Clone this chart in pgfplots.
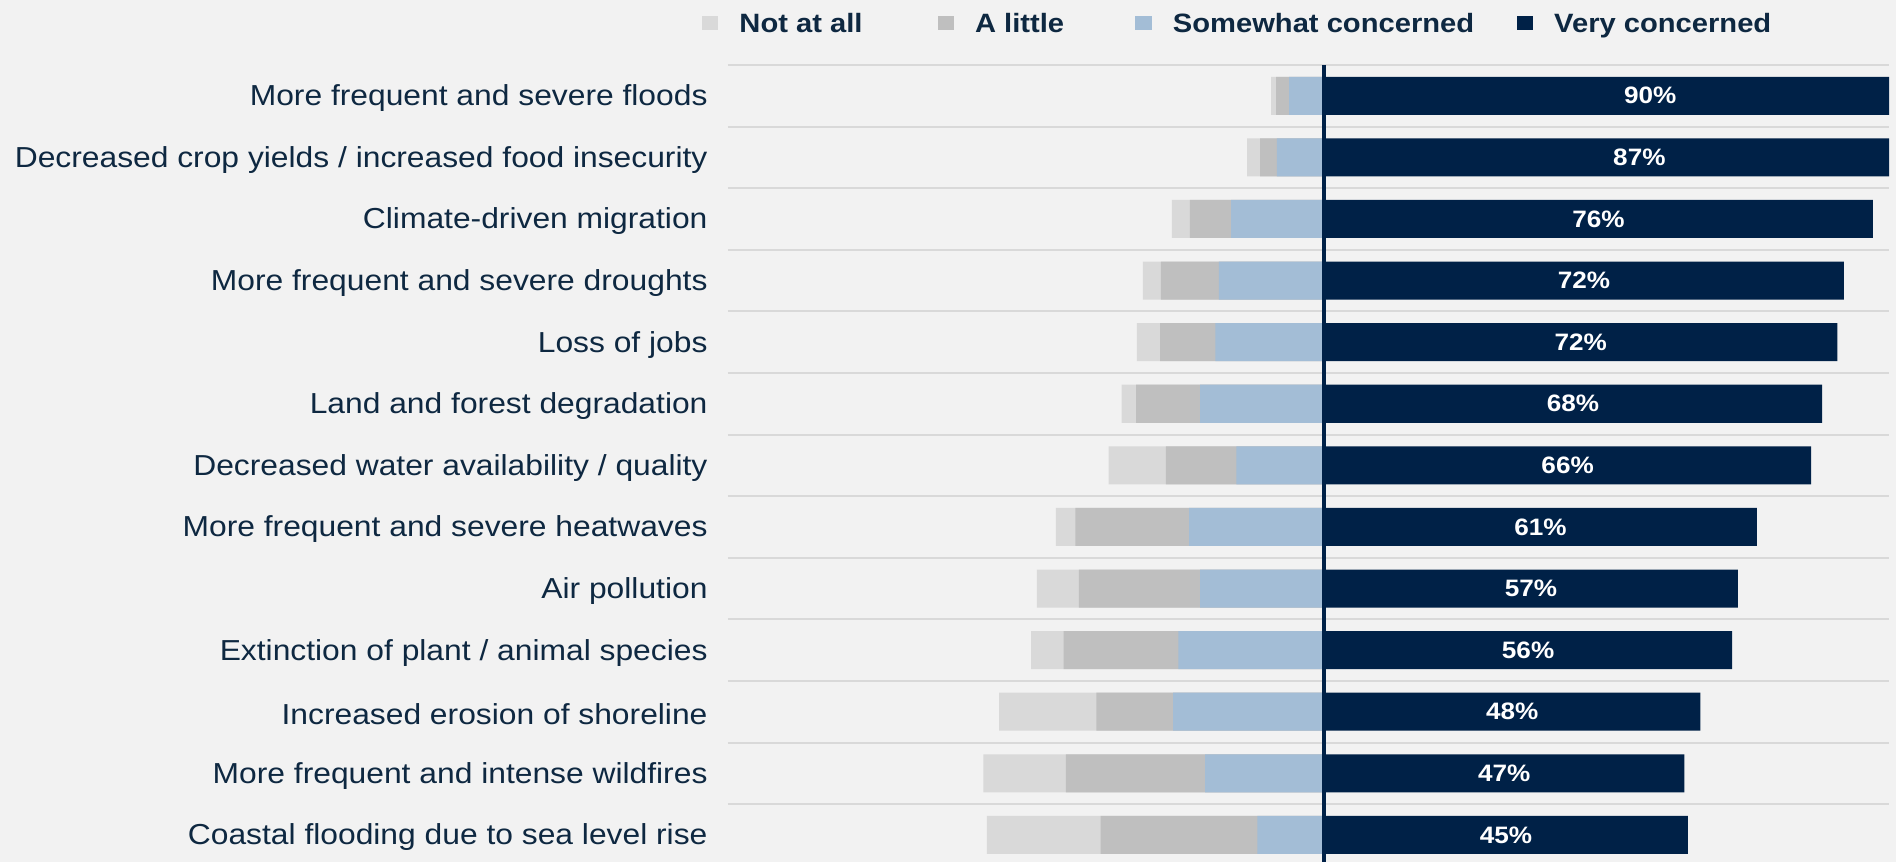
\documentclass[border=0pt]{standalone}
\usepackage{pgfplots}
\pgfplotsset{compat=1.18}
\usepackage{pgfplotstable}
\usepackage{fontspec}
\setmainfont{Liberation Sans}[FakeStretch=1.1]
\usetikzlibrary{backgrounds}
\definecolor{navy}{HTML}{002147}
\definecolor{txt}{HTML}{0E2841}
\definecolor{cSom}{HTML}{A3BDD6}
\definecolor{cLit}{HTML}{BFBFBF}
\definecolor{cNat}{HTML}{D9D9D9}
\definecolor{gridc}{HTML}{D9D9D9}
\definecolor{bg}{HTML}{F2F2F2}

% cumulative left boundaries (negative) and right bar length, in %
\pgfplotstableread{
y  nat    lit    som    very   lbl
12 -7.3   -6.6   -4.8   90.0   90
11 -10.6  -8.8   -6.5   87.0   87
10 -21.0  -18.5  -12.8  75.7   76
9  -25.0  -22.5  -14.5  71.7   72
8  -25.8  -22.6  -15.0  70.8   72
7  -27.9  -25.9  -17.1  68.7   68
6  -29.7  -21.8  -12.1  67.2   66
5  -37.0  -34.3  -18.6  59.7   61
4  -39.6  -33.8  -17.1  57.1   57
3  -40.4  -35.9  -20.1  56.3   56
2  -44.8  -31.4  -20.8  51.9   48
1  -47.0  -35.6  -16.4  49.7   47
0  -46.5  -30.8  -9.2   50.2   45
}\data

\begin{document}
\begin{tikzpicture}
\begin{axis}[
  name=ax,
  scale only axis,
  width=464.4pt, height=318.8pt,
  xbar, bar width=0.617, bar shift=0pt,
  xmin=-82.21, xmax=77.93,
  ymin=-0.44, ymax=12.5,
  axis line style={draw=none},
  xtick=\empty,
  ytick={0,...,12},
  yticklabels={Coastal flooding due to sea level rise,
    More frequent and intense wildfires,
    Increased erosion of shoreline,
    Extinction of plant / animal species,
    Air pollution,
    More frequent and severe heatwaves,
    Decreased water availability / quality,
    Land and forest degradation,
    Loss of jobs,
    More frequent and severe droughts,
    Climate-driven migration,
    Decreased crop yields / increased food insecurity,
    More frequent and severe floods},
  major tick length=0pt, minor tick length=0pt,
  yticklabel style={inner sep=0pt, xshift=-8pt, yshift=-1pt, text=txt,
    font=\fontsize{11.56}{13}\selectfont},
  minor ytick={0.5,1.5,...,12.5},
  yminorgrids=true,
  minor grid style={draw=gridc, line width=0.8pt},
  legend columns=4,
  legend image code/.code={\fill[#1] (0pt,-2.9pt) rectangle (6.6pt,2.9pt);},
  legend style={draw=none, fill=none, inner sep=0pt, outer sep=0pt,
    at={(axis description cs:0,1)}, anchor=west,
    xshift=-10.4pt, yshift=16.8pt,
    font=\bfseries\fontsize{10.6}{12}\selectfont, text=txt,
    nodes={inner sep=0pt, text depth=0pt},
    /tikz/every odd column/.append style={column sep=8.4pt},
    /tikz/column 2/.style={column sep=30pt},
    /tikz/column 4/.style={column sep=28.5pt},
    /tikz/column 6/.style={column sep=17pt}},
]
\addplot[fill=cNat, draw=none] table[x=nat, y=y] {\data};
\addlegendentry{Not at all}
\addplot[fill=cLit, draw=none] table[x=lit, y=y] {\data};
\addlegendentry{A little}
\addplot[fill=cSom, draw=none] table[x=som, y=y] {\data};
\addlegendentry{Somewhat concerned}
\addplot[fill=navy, draw=none] table[x=very, y=y] {\data};
\addlegendentry{Very concerned}
% value labels, centred on each (unclipped) navy bar
\addplot[sharp plot, draw=none, mark=none, forget plot,
  point meta=explicit symbolic,
  nodes near coords={\pgfplotspointmeta\%},
  nodes near coords align=center,
  every node near coord/.append style={anchor=center, text=white,
    font=\bfseries\fontsize{9.5}{11}\selectfont},
] table[x expr=\thisrow{very}/2, y=y, meta=lbl] {\data};
\draw[navy, line width=1.6pt] (axis cs:0,12.5) -- (axis cs:0,-0.44);
\end{axis}
\pgfresetboundingbox
\path ([xshift=-291.2pt]ax.south west) rectangle ([xshift=2.8pt,yshift=26pt]ax.north east);
\begin{pgfonlayer}{background}
\fill[bg] ([xshift=-291.2pt]ax.south west) rectangle ([xshift=2.8pt,yshift=26pt]ax.north east);
\end{pgfonlayer}
\end{tikzpicture}
\end{document}
